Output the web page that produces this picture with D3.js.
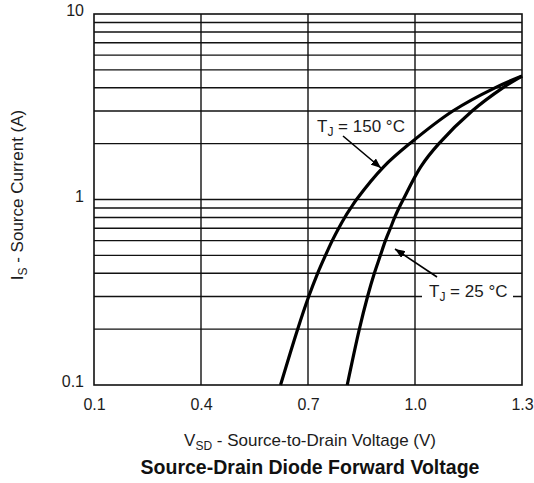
<!DOCTYPE html>
<html>
<head>
<meta charset="utf-8">
<script src="https://cdn.jsdelivr.net/npm/d3@7"></script>
<style>
  html, body { margin: 0; padding: 0; background: #fff; }
  svg { display: block; font-family: "Liberation Sans", Arial, Helvetica, sans-serif; }
</style>
</head>
<body>
<svg id="chart" width="534" height="483"></svg>
<script>
// Forward voltage (V) vs source current (A), two junction temperatures
const vsd150 = [0.623, 0.671, 0.702, 0.727, 0.749, 0.768, 0.786, 0.803, 0.820, 0.836, 0.912, 0.985, 1.106, 1.224, 1.300];
const is150  = [0.1,   0.2,   0.3,   0.4,   0.5,   0.6,   0.7,   0.8,   0.9,   1.0,   1.5,   2.0,   3.0,   4.0,   4.63];
const vsd25  = [0.810, 0.844, 0.867, 0.886, 0.903, 0.917, 0.931, 0.943, 0.955, 0.967, 1.016, 1.067, 1.160, 1.246, 1.300];
const is25   = [0.1,   0.2,   0.3,   0.4,   0.5,   0.6,   0.7,   0.8,   0.9,   1.0,   1.5,   2.0,   3.0,   4.0,   4.63];

const xTicks = [0.1, 0.4, 0.7, 1.0, 1.3];
const yTicks = [0.1, 1, 10];
const yGrid  = [0.2, 0.3, 0.4, 0.5, 0.6, 0.7, 0.8, 0.9, 1, 2, 3, 4, 5, 6, 7, 8, 9];

const svg = d3.select("#chart");
const x = d3.scaleLinear().domain([0.1, 1.3]).range([94, 522]);
const y = d3.scaleLog().domain([0.1, 10]).range([385, 14]);
const ink = "#111";
const txt = "#1c1c1c";

// grid
const grid = svg.append("g").attr("stroke", ink).attr("stroke-width", 1.4);
grid.selectAll("line.h").data(yGrid).join("line")
  .attr("x1", x(0.1)).attr("x2", x(1.3))
  .attr("y1", d => y(d)).attr("y2", d => y(d));
grid.selectAll("line.v").data(xTicks.slice(1, -1)).join("line")
  .attr("y1", y(0.1)).attr("y2", y(10))
  .attr("x1", d => x(d)).attr("x2", d => x(d));
svg.append("rect")
  .attr("x", x(0.1)).attr("y", y(10))
  .attr("width", x(1.3) - x(0.1)).attr("height", y(0.1) - y(10))
  .attr("fill", "none").attr("stroke", ink).attr("stroke-width", 1.6);

// axes labels
const xAxis = svg.append("g").attr("transform", `translate(0,${y(0.1)})`)
  .call(d3.axisBottom(x).tickValues(xTicks).tickSize(0).tickPadding(10).tickFormat(d3.format(".1f")));
const yAxis = svg.append("g").attr("transform", `translate(${x(0.1)},0)`)
  .call(d3.axisLeft(y).tickValues(yTicks).tickSize(0).tickPadding(10).tickFormat(d => String(d)));
[xAxis, yAxis].forEach(a => {
  a.select(".domain").remove();
  a.selectAll("text").attr("font-size", 16).attr("fill", txt)
    .attr("font-family", "Liberation Sans, Arial, sans-serif");
});
yAxis.selectAll("text").attr("dy", "0.12em");
xAxis.selectAll("text").attr("dy", "0.95em");

// curves
const line = d3.line().x(d => x(d[0])).y(d => y(d[1])).curve(d3.curveCatmullRom.alpha(0.5));
const c150 = vsd150.map((v, i) => [v, is150[i]]);
const c25 = vsd25.map((v, i) => [v, is25[i]]);
svg.append("g").attr("fill", "none").attr("stroke", "#000").attr("stroke-width", 3.2)
  .attr("stroke-linecap", "butt")
  .selectAll("path").data([c150, c25]).join("path").attr("d", line);

// arrow marker
svg.append("defs").append("marker")
  .attr("id", "head").attr("viewBox", "0 0 10 8").attr("refX", 10).attr("refY", 4)
  .attr("markerWidth", 10).attr("markerHeight", 8).attr("markerUnits", "userSpaceOnUse")
  .attr("orient", "auto")
  .append("path").attr("d", "M0,0 L10,4 L0,8 Z").attr("fill", "#000");

function tjLabel(xp, yp, value) {
  const t = svg.append("text").attr("x", xp).attr("y", yp)
    .attr("font-size", 17).attr("fill", txt);
  t.append("tspan").text("T");
  t.append("tspan").attr("font-size", 12).attr("dy", 4).text("J");
  t.append("tspan").attr("dy", -4).text(` = ${value} °C`);
  return t;
}

// 150 °C callout
tjLabel(317, 132, 150);
svg.append("line").attr("x1", 343).attr("y1", 136).attr("x2", 381).attr("y2", 168)
  .attr("stroke", "#000").attr("stroke-width", 1.6).attr("marker-end", "url(#head)");

// 25 °C callout (masks the grid line it sits on)
svg.append("rect").attr("x", 422).attr("y", 281).attr("width", 91).attr("height", 22).attr("fill", "#fff");
tjLabel(429, 297, 25);
svg.append("line").attr("x1", 437).attr("y1", 277).attr("x2", 395).attr("y2", 249)
  .attr("stroke", "#000").attr("stroke-width", 1.6).attr("marker-end", "url(#head)");

// axis titles
const xt = svg.append("text").attr("x", 310).attr("y", 446).attr("text-anchor", "middle")
  .attr("font-size", 17).attr("fill", txt);
xt.append("tspan").text("V");
xt.append("tspan").attr("font-size", 12).attr("dy", 4).text("SD");
xt.append("tspan").attr("dy", -4).text(" - Source-to-Drain Voltage (V)");

const yt = svg.append("text").attr("transform", "translate(23,195) rotate(-90)")
  .attr("text-anchor", "middle").attr("font-size", 17).attr("fill", txt);
yt.append("tspan").text("I");
yt.append("tspan").attr("font-size", 12).attr("dy", 4).text("S");
yt.append("tspan").attr("dy", -4).text(" - Source Current (A)");

svg.append("text").attr("x", 310).attr("y", 474).attr("text-anchor", "middle")
  .attr("font-size", 19.5).attr("font-weight", "bold").attr("fill", "#111")
  .text("Source-Drain Diode Forward Voltage");
</script>
</body>
</html>
